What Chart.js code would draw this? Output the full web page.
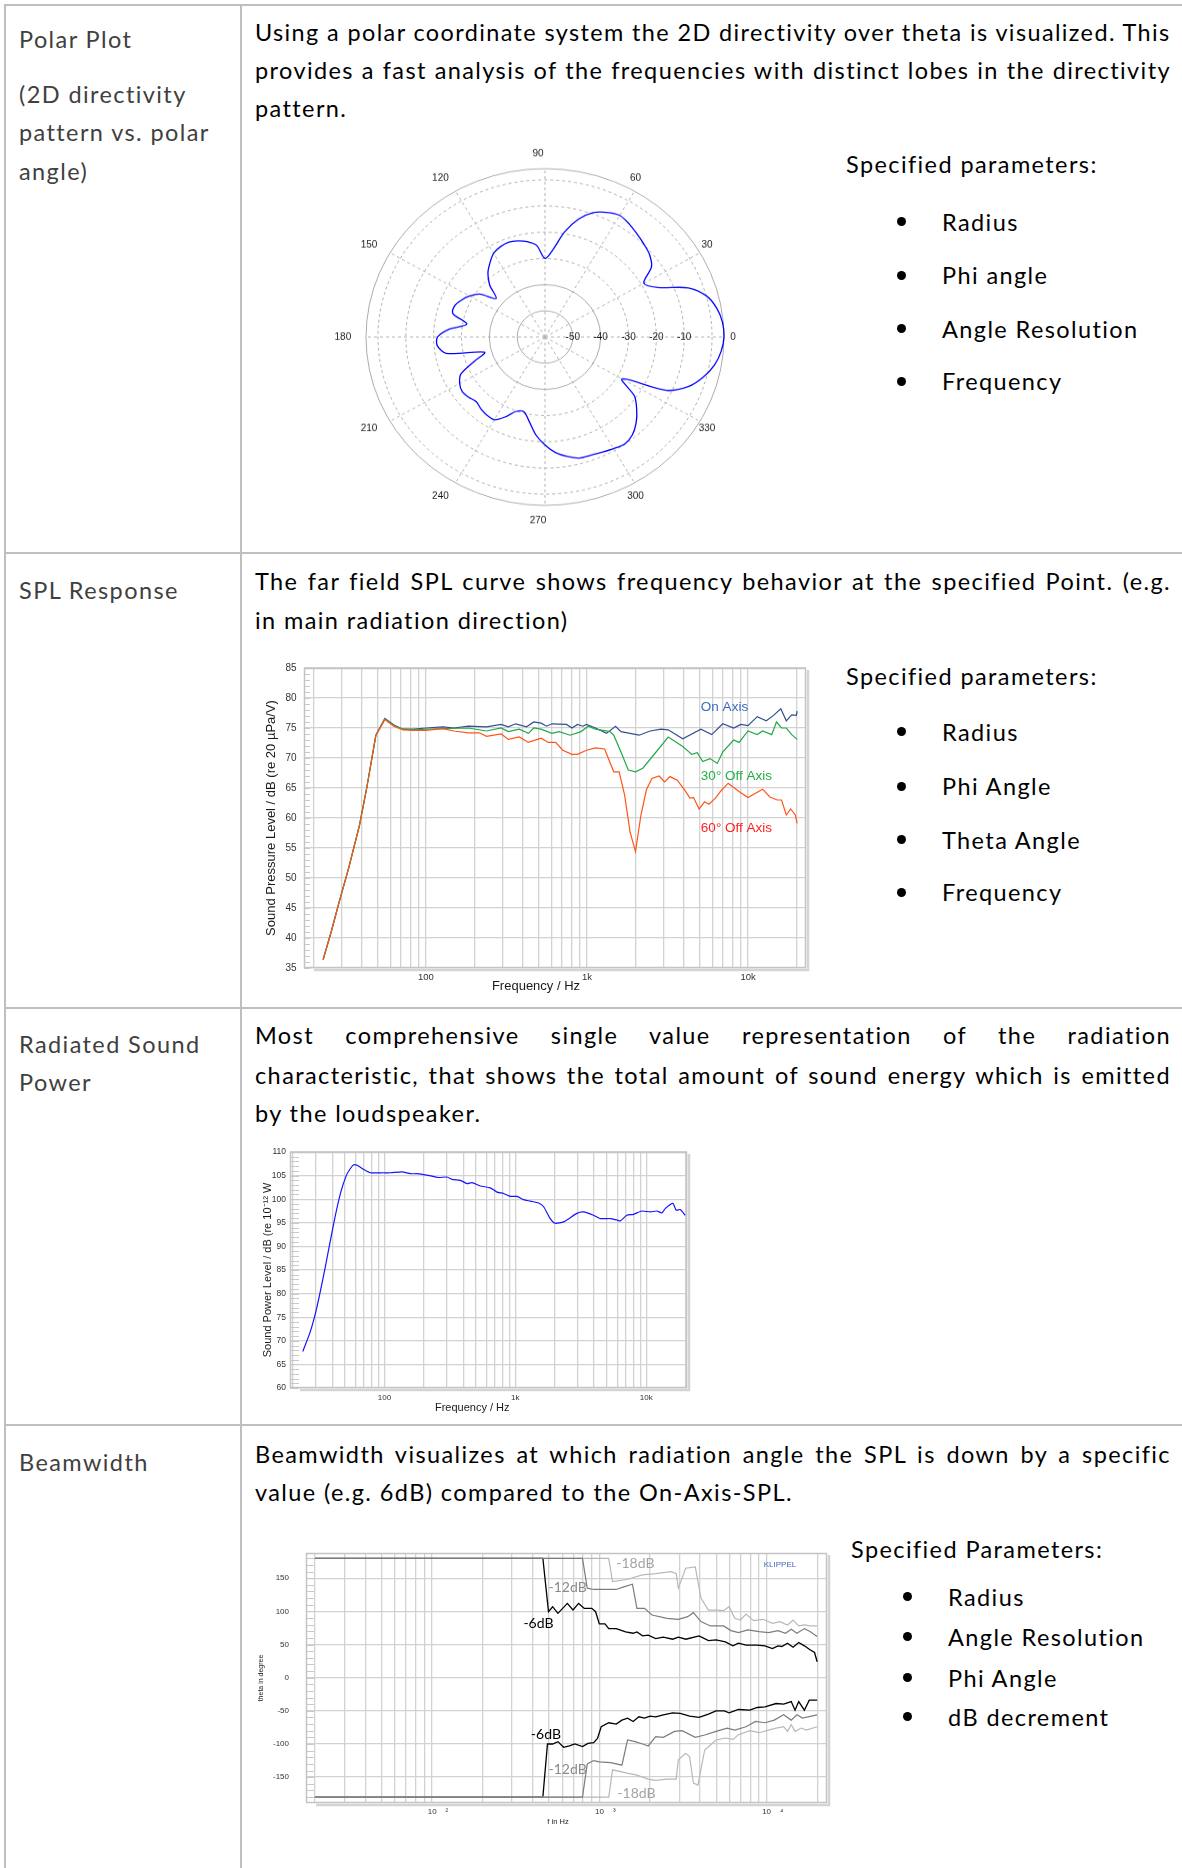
<!DOCTYPE html>
<html lang="en">
<head>
<meta charset="utf-8">
<title>Directivity analysis overview</title>
<script src="https://cdn.jsdelivr.net/npm/chart.js"></script>
<style>
  html, body { margin:0; padding:0; background:#fff; }
  body { position:relative; width:1182px; height:1868px; overflow:hidden;
         font-family: Lato, "Open Sans", "Liberation Sans", sans-serif; }
  .rule-h { position:absolute; height:2px; background:#bfbfbf; }
  .rule-v { position:absolute; width:2px; background:#bfbfbf; }
  .t { position:absolute; white-space:nowrap; font-size:23.5px; letter-spacing:1.4px; line-height:38px; color:#000; }
  .j { width:916px; text-align:justify; text-align-last:justify; }
  .h { color:#404040; left:19px; }
  .dot { position:absolute; width:9px; height:9px; border-radius:50%; background:#000; }
  canvas { position:absolute; }
</style>
</head>
<body>

<!-- table rules -->
<div class="rule-h" style="left:4px;top:4px;width:1178px"></div>
<div class="rule-v" style="left:4px;top:4px;height:1864px"></div>
<div class="rule-v" style="left:240px;top:4px;height:1864px"></div>
<div class="rule-h" style="left:4px;top:552px;width:1178px"></div>
<div class="rule-h" style="left:4px;top:1007px;width:1178px"></div>
<div class="rule-h" style="left:4px;top:1424px;width:1178px"></div>

<!-- row 1 -->
<div class="t h" style="top:20px">Polar Plot</div>
<div class="t h" style="top:75px">(2D directivity</div>
<div class="t h" style="top:113px">pattern vs. polar</div>
<div class="t h" style="top:152px">angle)</div>
<div class="t j" style="left:255px;top:13px">Using a polar coordinate system the 2D directivity over theta is visualized. This</div>
<div class="t j" style="left:255px;top:51px">provides a fast analysis of the frequencies with distinct lobes in the directivity</div>
<div class="t" style="left:255px;top:89px">pattern.</div>
<div class="t" style="left:846px;top:145px">Specified parameters:</div>
<div class="dot" style="left:897px;top:217px"></div><div class="t" style="left:942px;top:203px">Radius</div>
<div class="dot" style="left:897px;top:271px"></div><div class="t" style="left:942px;top:256px">Phi angle</div>
<div class="dot" style="left:897px;top:324px"></div><div class="t" style="left:942px;top:310px">Angle Resolution</div>
<div class="dot" style="left:897px;top:377px"></div><div class="t" style="left:942px;top:362px">Frequency</div>

<!-- row 2 -->
<div class="t h" style="top:571px">SPL Response</div>
<div class="t j" style="left:255px;top:562px">The far field SPL curve shows frequency behavior at the specified Point. (e.g.</div>
<div class="t" style="left:255px;top:601px">in main radiation direction)</div>
<div class="t" style="left:846px;top:657px">Specified parameters:</div>
<div class="dot" style="left:897px;top:727px"></div><div class="t" style="left:942px;top:713px">Radius</div>
<div class="dot" style="left:897px;top:782px"></div><div class="t" style="left:942px;top:767px">Phi Angle</div>
<div class="dot" style="left:897px;top:835px"></div><div class="t" style="left:942px;top:821px">Theta Angle</div>
<div class="dot" style="left:897px;top:888px"></div><div class="t" style="left:942px;top:873px">Frequency</div>

<!-- row 3 -->
<div class="t h" style="top:1025px">Radiated Sound</div>
<div class="t h" style="top:1063px">Power</div>
<div class="t j" style="left:255px;top:1016px">Most comprehensive single value representation of the radiation</div>
<div class="t j" style="left:255px;top:1056px">characteristic, that shows the total amount of sound energy which is emitted</div>
<div class="t" style="left:255px;top:1094px">by the loudspeaker.</div>

<!-- row 4 -->
<div class="t h" style="top:1443px">Beamwidth</div>
<div class="t j" style="left:255px;top:1435px">Beamwidth visualizes at which radiation angle the SPL is down by a specific</div>
<div class="t" style="left:255px;top:1473px">value (e.g. 6dB) compared to the On-Axis-SPL.</div>
<div class="t" style="left:851px;top:1530px">Specified Parameters:</div>
<div class="dot" style="left:903px;top:1592px"></div><div class="t" style="left:948px;top:1578px">Radius</div>
<div class="dot" style="left:903px;top:1632px"></div><div class="t" style="left:948px;top:1618px">Angle Resolution</div>
<div class="dot" style="left:903px;top:1673px"></div><div class="t" style="left:948px;top:1659px">Phi Angle</div>
<div class="dot" style="left:903px;top:1712px"></div><div class="t" style="left:948px;top:1698px">dB decrement</div>

<canvas id="polar" width="460" height="420" style="left:315px;top:127px;transform:scaleY(0.941);transform-origin:230px 210px"></canvas>
<canvas id="spl" width="570" height="350" style="left:250px;top:655px"></canvas>
<canvas id="power" width="450" height="280" style="left:250px;top:1140px"></canvas>
<canvas id="beam" width="590" height="300" style="left:250px;top:1540px"></canvas>

<script>
// ---------- polar directivity (dB vs. polar angle, counter-clockwise from 0°) ----------
const polarAngles = [0,5,10,15,20,25,30,35,40,45,50,55,60,65,70,75,80,85,90,95,100,105,110,115,
  120,125,130,135,140,145,150,155,160,165,170,175,180,185,190,195,200,205,210,215,220,225,230,235,
  240,245,250,255,260,265,270,275,280,285,290,295,300,305,310,315,320,325,330,335,340,345,350,355];
const polarLevels = [4.3,4.0,2.7,0.2,-5.2,-15.3,-19.0,-13.3,-11.0,-9.8,-8.6,-7.3,-6.4,-7.5,-9.5,-13.4,
  -19.2,-26.4,-30.0,-24.8,-23.0,-22.0,-21.5,-22.0,-23.1,-25.5,-28.1,-31.9,-37.1,-31.4,-28.7,-26.8,
  -25.4,-25.8,-31.5,-25.5,-21.4,-21.2,-24.0,-37.5,-33.0,-26.7,-24.6,-23.7,-24.2,-25.1,-24.2,-23.6,
  -23.6,-26.4,-29.8,-30.5,-27.3,-22.5,-18.8,-15.7,-13.7,-12.2,-12.0,-11.5,-10.8,-10.1,-11.2,-13.7,
  -17.0,-20.8,-28.0,-11.9,-5.0,-1.1,1.8,3.5];
const polarRings = [-60,-50,-40,-30,-20,-10,0,4.3];
const polarRingLabels = [-50,-40,-30,-20,-10];
const polarAngleLabels = [0,30,60,90,120,150,180,210,240,270,300,330];

// ---------- far-field SPL ----------
const splGridFreqs = [20,30,40,50,60,70,80,90,100,200,300,400,500,600,700,800,900,
  1000,2000,3000,4000,5000,6000,7000,8000,9000,10000,20000];
const splTickText = {100:'100', 1000:'1k', 10000:'10k'};
const splLevelTicks = [35,40,45,50,55,60,65,70,75,80,85];

const onAxisFreq = [23.0,25.8,29.0,33.1,38.7,42.9,48.9,55.6,63.3,72.1,84.3,100,127.6,149.2,183.6,238,293,325,
  360.6,421.5,467.6,518.8,560.9,606,746.3,806.6,872,942,993,1130,1321,1504,1626,2108,2464,2879,3194,3931,
  5097,5956,6961,8134,9022,10000,11400,12980,14400,15970,17280,18670,19950,20180];
const onAxisLevel = [36.4,41.0,46.1,51.6,58.8,65.0,73.8,76.6,75.5,74.8,74.8,75.0,75.2,75.0,75.3,75.2,75.6,75.2,
  75.7,75.2,76.0,75.8,75.3,75.7,75.6,75.0,75.6,75.3,75.6,75.0,74.1,75.3,74.4,73.8,74.5,74.8,74.7,73.2,
  74.8,73.9,75.7,75.0,75.6,75.4,76.9,76.2,77.1,78.2,76.2,77.2,77.1,77.8];

const offAxis30Freq = [23.0,25.8,29.0,33.1,38.7,42.9,48.9,55.6,63.3,72.1,84.3,100,183.6,238,293,325,380,432.5,
  467.6,518.8,606,672.5,785.7,918.3,1019,1130,1391,1466,1626,1804,2001,2221,2594,3194,3931,4477,4839,
  5231,5802,6440,6961,8134,8791,10000,11400,12320,14030,15010,16140,17280,18670,20180];
const offAxis30Level = [36.4,41.0,46.1,51.6,58.8,65.0,73.8,76.5,75.4,74.8,74.7,74.8,75.0,74.5,75.0,74.4,74.8,74.1,
  75.0,74.8,74.1,74.4,73.8,74.4,75.3,74.8,74.4,73.8,71.0,68.0,67.7,68.3,70.5,73.5,71.9,70.6,70.9,
  69.4,69.9,69.1,71.0,73.0,72.6,74.5,73.9,74.5,73.9,76.0,75.0,75.0,73.9,73.1];

const offAxis60Freq = [23.0,25.8,29.0,33.1,38.7,42.9,48.9,55.6,63.3,72.1,84.3,100,127.6,149.2,183.6,214.6,238,
  293,325,380,432.5,518.8,575.4,638.5,708,806.6,872,993,1130,1287,1466,1584,1713,1851,2001,2163,2339,
  2528,2805,3032,3278,3637,4035,4362,4592,4966,5369,5713,6274,6783,7524,8791,10000,12320,13670,15170,
  16140,17280,18380,19670,20180];
const offAxis60Level = [36.4,41.0,46.1,51.6,58.8,65.0,73.8,76.4,75.3,74.7,74.6,74.6,74.9,74.5,74.2,74.2,73.6,
  74.0,73.1,73.5,72.6,73.3,72.6,72.6,71.3,70.6,70.6,71.3,71.7,71.5,67.7,67.7,63.8,57.7,54.4,60.5,64.7,
  66.6,67.0,66.0,66.9,66.3,64.7,63.3,63.4,61.5,62.7,62.3,63.3,64.5,65.8,64.4,63.4,64.8,63.5,63.0,
  63.0,60.5,61.5,60.5,59.1];

// ---------- radiated sound power ----------
const powerGridFreqs = [20,30,40,50,60,70,80,90,100,200,300,400,500,600,700,800,900,
  1000,2000,3000,4000,5000,6000,7000,8000,9000,10000,20000];
const powerTickText = {100:'100', 1000:'1k', 10000:'10k'};
const powerLevelTicks = [60,65,70,75,80,85,90,95,100,105,110];
const powerFreq = [23.8,27.2,30.6,35.4,41.0,46.1,51.3,55.0,58.3,61.8,69.5,78.2,98.8,111.1,136.4,157.9,177.4,
  199.6,231.1,260,300.8,328.6,380.5,428,466.8,540.6,644.6,724.9,814.5,915.4,1030,1158,1302,1507,1646,
  1849,2020,2338,2956,3325,3963,4456,5313,5970,6331,7117,8000,9269,10730,12060,13180,13970,15980,
  16940,18190,19870];
const powerLevel = [67.75,72.0,77.3,85.7,94.9,101.2,105.1,106.5,107.3,107.2,106.3,105.6,105.6,105.6,105.8,
  105.4,105.4,105.2,104.9,104.6,104.7,104.2,104.0,103.3,103.5,102.8,102.4,101.5,101.2,100.6,100.6,99.9,
  99.6,99.2,98.4,95.9,94.9,95.2,97.0,97.3,96.6,95.9,95.9,95.6,95.4,96.6,96.8,97.5,97.3,97.5,97.1,98.0,
  99.1,97.7,97.8,96.6];

// ---------- beamwidth (theta in degree vs. frequency) ----------
const beamGridFreqs = [20,30,40,50,60,70,80,90,100,200,300,400,500,600,700,800,900,
  1000,2000,3000,4000,5000,6000,7000,8000,9000,10000,20000];
const beamTickText = {100:'10    \u00B2', 1000:'10    \u00B3', 10000:'10    \u2074'};
const beamThetaTicks = [-150,-100,-50,0,50,100,150];

const bw6UpperFreq = [20,460,497,526,566,644,696,752,813,902,950,1000,1081,1138,1262,1436,1592,1677,1813,1959,
  2172,2410,2741,2964,3288,3941,4487,4977,5662,6281,6778,7521,8785,9747,10810,11670,12300,13300,14360,
  15520,16780,18130,19300,20000];
const bw6UpperTheta = [180,180,99.5,107,97,112,102,112,104.5,104.5,99.5,81,81,74,74,69,67,69,63,64,
  59,61,58,61,58,63,56,57,54,48,52,49,49,48,44,48,47,52,46,
  53,48,42,38,24];
const bw6LowerFreq = [20,460,490,526,566,612,662,714,793,856,925,975,1026,1138,1262,1364,1474,1592,1722,1861,
  2010,2172,2410,2741,3041,3461,3941,4487,4977,5572,5958,6778,7925,8785,9747,11380,12620,14000,14750,
  15520,16780,17940,20000];
const bw6LowerTheta = [-180,-180,-100,-100,-96.5,-105,-103,-100,-104,-99,-98,-91.5,-74,-68,-70,-64,-61,-66,-59,-61,
  -58,-59,-56,-53,-54,-58,-60,-55,-50,-50,-53,-48,-49,-45,-44,-39,-40,-36,-49,
  -36,-49,-34,-34];
const bw12UpperFreq = [20,793,847,925,1262,1400,1577,1677,1861,2064,2538,2964,3373,3646,4045,4604,5515,6116,
  6778,7720,9015,10260,11670,12940,14000,15140,16780,18130,20000];
const bw12UpperTheta = [180,180,135,133,133,137,141,104.5,104.5,94.5,89.5,88,92,98,84.5,78,78,71,
  68,72,69.5,68,71,67,73,67,74,69.5,62];
const bw12LowerFreq = [20,793,847,925,1000,1167,1364,1474,1635,1813,1959,2172,2410,2813,3120,3742,4259,4977,
  5808,6440,7521,8570,9747,11090,12620,14000,15140,16360,20000];
const bw12LowerTheta = [-180,-180,-130,-125,-127,-128,-132,-94,-96.5,-100,-103,-89,-90,-81,-80,-90,-86.5,-81,
  -76,-79,-74,-66,-68,-64,-56,-64,-56,-61,-56];
const bw18UpperFreq = [20,1138,1199,1466,1804,2172,2673,2879,2964,3278,3742,4045,4477,4977,5515,5956,6440,
  6962,7521,8344,9500,10810,11990,13300,14360,15520,16780,18130,20000];
const bw18UpperTheta = [180,180,145,148,155,157,160,157,135,165,167,120,102,102,101,107,89.5,
  87,96,86,88,82,84.5,79.5,87,78,79.5,78,78];
const bw18LowerFreq = [20,1138,1199,1466,1677,1959,2172,2538,2879,2964,3278,3461,3646,3880,4259,4977,5662,
  6281,6778,7925,9015,10260,11380,12620,13300,14000,14750,16090,17220,20000];
const bw18LowerTheta = [-180,-180,-139,-144,-147,-153,-155,-153,-153,-124,-114,-119,-159,-162,-109,-94,-91,
  -93,-86,-80,-83,-79,-76,-74,-81,-71,-81,-76,-79,-74];

// ---------------------------------------------------------------------------
Chart.defaults.font.family = '"Liberation Sans", Arial, Helvetica, sans-serif';
Chart.defaults.color = '#222';

const zipXY = (xs, ys) => xs.slice(0, Math.min(xs.length, ys.length)).map((x, i) => ({x, y: ys[i]}));

// light frame around the plot area with a soft right/bottom edge, plus short minor ticks on the left
const plotFrame = {
  id: 'plotFrame',
  beforeDatasetsDraw(chart, args, opts) {
    const {ctx, chartArea: a} = chart;
    const ys = chart.scales.y;
    ctx.save();
    ctx.strokeStyle = '#c9c9c9';
    ctx.lineWidth = 1;
    const step = opts.minorStep;
    for (let v = Math.ceil(ys.min / step) * step; v <= ys.max + 1e-9; v += step) {
      const y = Math.round(ys.getPixelForValue(v)) + 0.5;
      ctx.beginPath();
      ctx.moveTo(a.left, y);
      ctx.lineTo(a.left + opts.minorLen, y);
      ctx.stroke();
    }
    ctx.strokeStyle = '#c4c4c4';
    ctx.lineWidth = 1.5;
    ctx.strokeRect(a.left + 0.5, a.top + 0.5, a.right - a.left - 1, a.bottom - a.top - 1);
    ctx.strokeStyle = '#d4d4d4';
    ctx.lineWidth = 2.5;
    ctx.beginPath();
    ctx.moveTo(a.right + 2, a.top + 2);
    ctx.lineTo(a.right + 2, a.bottom + 2);
    ctx.lineTo(a.left + 10, a.bottom + 2);
    ctx.stroke();
    ctx.restore();
  }
};

// free text: either in data space of the x/y scales or offset from the plot area
const captions = {
  id: 'captions',
  afterDraw(chart, args, opts) {
    const {ctx, chartArea: a} = chart;
    const xs = chart.scales.x, ys = chart.scales.y;
    ctx.save();
    (opts.items || []).forEach(it => {
      ctx.font = it.font;
      ctx.fillStyle = it.color;
      ctx.textAlign = it.align || 'center';
      ctx.textBaseline = 'middle';
      let x, y;
      if (it.freq !== undefined) {
        x = xs.getPixelForValue(it.freq);
        y = ys.getPixelForValue(it.value);
      } else {
        x = a.left + it.dx;
        y = a.bottom + it.dy;
      }
      ctx.fillText(it.text, x, y);
    });
    ctx.restore();
  }
};

function freqAxis(minF, maxF, gridFreqs, tickText, height, fontSize, pad, labelOffset) {
  return {
    type: 'logarithmic', min: minF, max: maxF,
    afterBuildTicks: s => { s.ticks = gridFreqs.map(v => ({value: v})); },
    afterFit: s => { s.height = height; s.paddingLeft = 0; s.paddingRight = 0; },
    grid: {color: '#d2d2d2', lineWidth: 1.3, drawTicks: false},
    border: {display: false},
    ticks: {autoSkip: false, maxRotation: 0, padding: pad, font: {size: fontSize}, color: '#333',
            labelOffset: labelOffset || 0, callback: v => tickText[v] || ''}
  };
}
function levelAxis(minV, maxV, tickValues, width, fontSize, pad, title, titleSize, titlePad) {
  return {
    min: minV, max: maxV,
    afterBuildTicks: s => { s.ticks = tickValues.map(v => ({value: v})); },
    afterFit: s => { s.width = width; s.paddingTop = 0; s.paddingBottom = 0; },
    grid: {color: '#d2d2d2', lineWidth: 1.3, drawTicks: false},
    border: {display: false},
    ticks: {padding: pad, font: {size: fontSize}, color: '#333'},
    title: {display: true, text: title, font: {size: titleSize}, color: '#1a1a1a',
            padding: {top: titlePad, bottom: 0}}
  };
}
const baseOptions = {
  responsive: false, animation: false, devicePixelRatio: 1,
  elements: {point: {radius: 0}, line: {borderWidth: 1.2, tension: 0}},
};

// ---------- polar plot ----------
const nA = polarAngles.length;
const radarOrder = polarAngles.map((_, i) => (nA - i) % nA);   // clockwise index -> counter-clockwise angle
const polarLabelsPlugin = {
  id: 'polarLabels',
  afterDraw(chart) {
    const s = chart.scales.r, ctx = chart.ctx;
    ctx.save();
    ctx.font = '10px "Liberation Sans", Arial, sans-serif';
    ctx.fillStyle = '#1a1a1a';
    ctx.textAlign = 'center';
    ctx.textBaseline = 'middle';
    polarRingLabels.forEach(v => {
      const p = s.getPointPosition(0, s.getDistanceFromCenterForValue(v));
      ctx.fillText(String(v), p.x, p.y);
    });
    polarAngleLabels.forEach(a => {
      const idx = radarOrder.indexOf(polarAngles.indexOf(a));
      const p = s.getPointPosition(idx, s.drawingArea * 1.09);
      ctx.fillText(String(a), p.x - 7, p.y);
    });
    ctx.restore();
  }
};
new Chart(document.getElementById('polar'), {
  type: 'radar',
  data: {
    labels: radarOrder.map(k => polarAngles[k]),
    datasets: [{
      data: radarOrder.map(k => polarLevels[k]),
      borderColor: '#0000ff', borderWidth: 1.3, pointRadius: 0, fill: false, tension: 0.3
    }]
  },
  options: {
    responsive: false, animation: false, devicePixelRatio: 1,
    plugins: {legend: {display: false}, tooltip: {enabled: false}},
    scales: {
      r: {
        min: -60, max: 4.3, startAngle: 90,
        afterBuildTicks: s => { s.ticks = polarRings.map(v => ({value: v})); },
        afterFit: s => { s.xCenter = 230; s.yCenter = 210; s.drawingArea = 179; },
        ticks: {display: false},
        pointLabels: {display: false},
        grid: {circular: true, color: '#ababab', lineWidth: 1},
        border: {dash: c => (c.tick && (c.tick.value === -50 || c.tick.value === -40 || c.tick.value > 0)) ? [] : [3, 3]},
        angleLines: {color: '#b3b3b3', lineWidth: c => (c.index % 6 === 0 ? 1 : 0), borderDash: [3, 3]}
      }
    }
  },
  plugins: [polarLabelsPlugin]
});

// ---------- SPL response ----------
new Chart(document.getElementById('spl'), {
  type: 'line',
  data: {datasets: [
    {data: zipXY(offAxis60Freq, offAxis60Level), borderColor: '#ff5418'},
    {data: zipXY(offAxis30Freq, offAxis30Level), borderColor: '#23a84a'},
    {data: zipXY(onAxisFreq, onAxisLevel), borderColor: '#33508e'}
  ]},
  options: Object.assign({}, baseOptions, {
    layout: {padding: {left: 0, right: 14, top: 13, bottom: 0}},
    plugins: {
      legend: {display: false}, tooltip: {enabled: false},
      plotFrame: {minorStep: 1, minorLen: 6},
      captions: {items: [
        {text: 'On Axis', freq: 5094, value: 78.4, align: 'left', font: '13.5px "Liberation Sans", Arial', color: '#3d6bbd'},
        {text: '30\u00B0 Off Axis', freq: 5094, value: 66.9, align: 'left', font: '13.5px "Liberation Sans", Arial', color: '#22b04a'},
        {text: '60\u00B0 Off Axis', freq: 5094, value: 58.3, align: 'left', font: '13.5px "Liberation Sans", Arial', color: '#ff2222'},
        {text: 'Frequency / Hz', dx: 232, dy: 18, font: '13px "Liberation Sans", Arial', color: '#1a1a1a'}
      ]}
    },
    scales: {
      x: freqAxis(17.5, 22900, splGridFreqs, splTickText, 37, 9.5, 4),
      y: levelAxis(35, 85, splLevelTicks, 54, 10, 7.5, 'Sound Pressure Level / dB (re 20 \u00B5Pa/V)', 13, 14)
    }
  }),
  plugins: [plotFrame, captions]
});

// ---------- radiated sound power ----------
new Chart(document.getElementById('power'), {
  type: 'line',
  data: {datasets: [
    {data: zipXY(powerFreq, powerLevel), borderColor: '#1414ff', borderWidth: 1.2, tension: 0.2}
  ]},
  options: Object.assign({}, baseOptions, {
    layout: {padding: {left: 0, right: 13, top: 12, bottom: 0}},
    plugins: {
      legend: {display: false}, tooltip: {enabled: false},
      plotFrame: {minorStep: 1, minorLen: 9},
      captions: {items: [
        {text: 'Frequency / Hz', dx: 182.2, dy: 20, font: '11px "Liberation Sans", Arial', color: '#1a1a1a'}
      ]}
    },
    scales: {
      x: freqAxis(19, 20500, powerGridFreqs, powerTickText, 32, 8, 5),
      y: levelAxis(60, 110, powerLevelTicks, 40, 8.5, 4, 'Sound Power Level / dB (re 10\u207B\u00B9\u00B2 W', 11, 11.5)
    }
  }),
  plugins: [plotFrame, captions]
});

// ---------- beamwidth ----------
const lato = '14px Lato, "Open Sans", sans-serif';
new Chart(document.getElementById('beam'), {
  type: 'line',
  data: {datasets: [
    {data: zipXY(bw12UpperFreq, bw12UpperTheta), borderColor: '#7d7d7d'},
    {data: zipXY(bw12LowerFreq, bw12LowerTheta), borderColor: '#7d7d7d'},
    {data: zipXY(bw18UpperFreq, bw18UpperTheta), borderColor: '#b8b8b8'},
    {data: zipXY(bw18LowerFreq, bw18LowerTheta), borderColor: '#b8b8b8'},
    {data: zipXY(bw6UpperFreq, bw6UpperTheta), borderColor: '#000000', borderWidth: 1.3},
    {data: zipXY(bw6LowerFreq, bw6LowerTheta), borderColor: '#000000', borderWidth: 1.3}
  ]},
  options: Object.assign({}, baseOptions, {
    layout: {padding: {left: 0, right: 13, top: 13, bottom: 0}},
    plugins: {
      legend: {display: false}, tooltip: {enabled: false},
      plotFrame: {minorStep: 10, minorLen: 8},
      captions: {items: [
        {text: '-18dB', freq: 1262, value: 171.5, align: 'left', font: lato, color: '#a3a3a3'},
        {text: '-12dB', freq: 497, value: 135.7, align: 'left', font: lato, color: '#8a8a8a'},
        {text: '-6dB', freq: 352, value: 82, align: 'left', font: lato, color: '#000'},
        {text: '-6dB', freq: 390, value: -85.4, align: 'left', font: lato, color: '#000'},
        {text: '-12dB', freq: 497, value: -138.2, align: 'left', font: lato, color: '#8a8a8a'},
        {text: '-18dB', freq: 1282, value: -174.4, align: 'left', font: lato, color: '#a3a3a3'},
        {text: 'KLIPPEL', freq: 11990, value: 170, font: '8px "Liberation Sans", Arial', color: '#4566b8'},
        {text: 'f in Hz', dx: 252, dy: 18.7, font: '7.5px "Liberation Sans", Arial', color: '#1a1a1a'}
      ]}
    },
    scales: {
      x: freqAxis(17.7, 22900, beamGridFreqs, beamTickText, 37, 8, 4, 6),
      y: levelAxis(-189, 188, beamThetaTicks, 56, 8, 17, 'theta in degree', 7, 7)
    }
  }),
  plugins: [plotFrame, captions]
});

// keep justified lines inside the text column
document.querySelectorAll('.j').forEach(el => {
  const over = el.scrollWidth / el.clientWidth;
  if (over > 1.001) {
    el.style.transformOrigin = '0 50%';
    el.style.transform = 'scaleX(' + (1 / over).toFixed(4) + ')';
  }
});
</script>
</body>
</html>
